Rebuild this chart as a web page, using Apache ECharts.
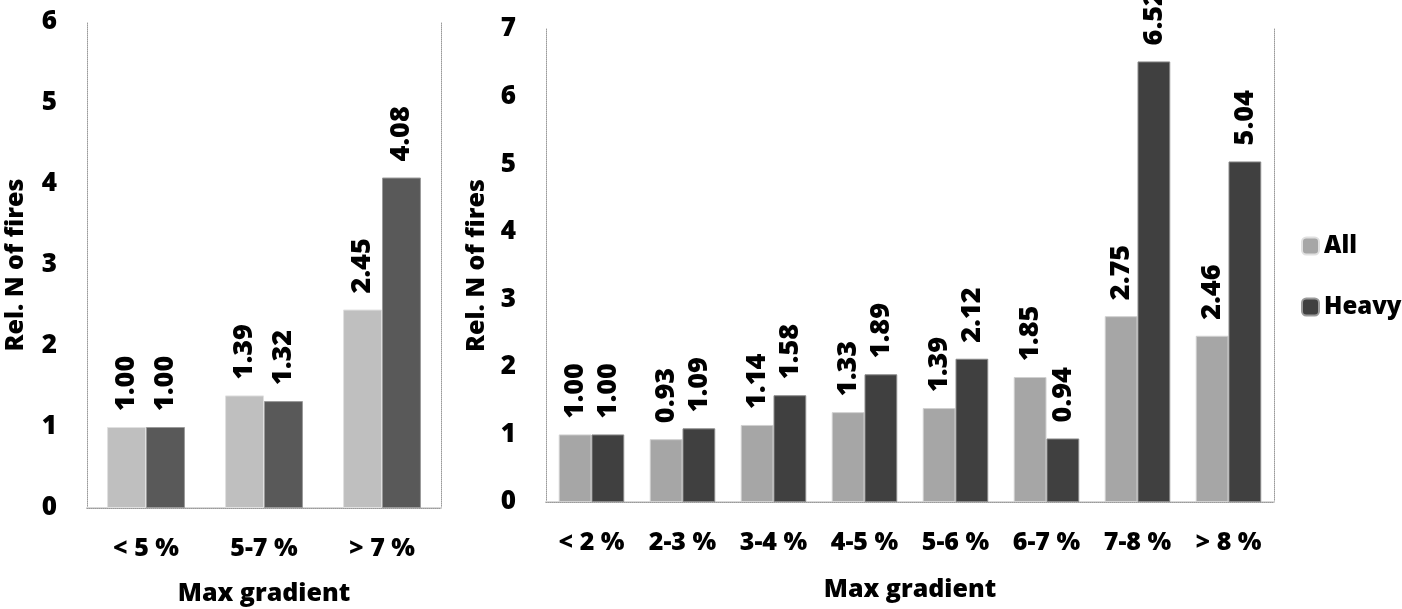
<!DOCTYPE html>
<html>
<head>
<meta charset="utf-8">
<script src="https://cdn.jsdelivr.net/npm/echarts@6/dist/echarts.min.js"></script>
<style>html,body{margin:0;padding:0;background:#fff}#c{width:1402px;height:609px}</style>
</head>
<body>
<div id="c"></div>
<script>
const leftCategories = ['< 5 %', '5-7 %', '> 7 %'];
const leftAll = [1.00, 1.39, 2.45];
const leftHeavy = [1.00, 1.32, 4.08];
const rightCategories = ['< 2 %', '2-3 %', '3-4 %', '4-5 %', '5-6 %', '6-7 %', '7-8 %', '> 8 %'];
const rightAll = [1.00, 0.93, 1.14, 1.33, 1.39, 1.85, 2.75, 2.46];
const rightHeavy = [1.00, 1.09, 1.58, 1.89, 2.12, 0.94, 6.52, 5.04];
const yTitle = 'Rel. N of fires';
const xTitle = 'Max gradient';

const FONT = '"Open Sans", "DejaVu Sans", sans-serif';
const W = 800;
const chart = echarts.init(document.getElementById('c'));
const dotted = { show: true, lineStyle: { color: '#9a9a9a', type: [1, 1], width: 1 } };
const valueLabel = {
  show: true, position: 'top', rotate: 90, align: 'left', verticalAlign: 'middle',
  distance: 16, fontFamily: FONT, fontWeight: W, fontSize: 27, color: '#000',
  formatter: p => p.value.toFixed(2)
};
function catAxis(grid, cats, gap) {
  return {
    type: 'category', gridIndex: grid, data: cats, position: 'bottom',
    axisLine: { show: true, lineStyle: { color: '#d9d9d9', width: 2 } },
    axisTick: { show: false },
    axisLabel: { margin: 28, fontFamily: FONT, fontWeight: W, fontSize: 25, color: '#000', interval: 0 },
    name: xTitle, nameLocation: 'middle', nameGap: gap,
    nameTextStyle: { fontFamily: FONT, fontWeight: W, fontSize: 25, color: '#000' }
  };
}
function topAxis(grid, cats) {
  return { type: 'category', gridIndex: grid, data: cats, position: 'top', axisLine: dotted, axisTick: { show: false }, axisLabel: { show: false } };
}
function valAxis(grid, max, gap) {
  return {
    type: 'value', gridIndex: grid, min: 0, max: max, interval: 1, position: 'left',
    axisLine: dotted, axisTick: { show: false }, splitLine: { show: false },
    axisLabel: { margin: 30, fontFamily: FONT, fontWeight: W, fontSize: 26, color: '#000' },
    name: yTitle, nameLocation: 'middle', nameRotate: 90, nameGap: gap,
    nameTextStyle: { fontFamily: FONT, fontWeight: W, fontSize: 25, color: '#000' }
  };
}
function rightAxis(grid, max) {
  return { type: 'value', gridIndex: grid, min: 0, max: max, interval: 1, position: 'right', axisLine: dotted, axisTick: { show: false }, axisLabel: { show: false }, splitLine: { show: false } };
}

chart.setOption({
  animation: false,
  backgroundColor: '#fff',
  legend: {
    orient: 'vertical', left: 1296, top: 229, itemWidth: 17, itemHeight: 17, itemGap: 37,
    textStyle: { fontFamily: FONT, fontWeight: W, fontSize: 24, color: '#000' },
    data: [{ name: 'All', itemStyle: { color: '#a6a6a6' } }, { name: 'Heavy', itemStyle: { color: '#404040' } }]
  },
  grid: [
    { left: 87, top: 22, width: 354, height: 486, outerBoundsMode: 'none', containLabel: false },
    { left: 546, top: 29, width: 728, height: 473, outerBoundsMode: 'none', containLabel: false }
  ],
  xAxis: [catAxis(0, leftCategories, 73), catAxis(1, rightCategories, 75), topAxis(0, leftCategories), topAxis(1, rightCategories)],
  yAxis: [valAxis(0, 6, 59), valAxis(1, 7, 51), rightAxis(0, 6), rightAxis(1, 7)],
  series: [
    { name: 'All', type: 'bar', xAxisIndex: 0, yAxisIndex: 0, data: leftAll, barGap: '0%', barCategoryGap: '34%',
      itemStyle: { color: '#bfbfbf', borderColor: '#e0e0e0', borderWidth: 1 }, label: valueLabel },
    { name: 'Heavy', type: 'bar', xAxisIndex: 0, yAxisIndex: 0, data: leftHeavy, barGap: '0%', barCategoryGap: '34%',
      itemStyle: { color: '#595959', borderColor: '#9a9a9a', borderWidth: 1 }, label: valueLabel },
    { name: 'All', type: 'bar', xAxisIndex: 1, yAxisIndex: 1, data: rightAll, barGap: '0%', barCategoryGap: '28%',
      itemStyle: { color: '#a6a6a6', borderColor: '#d0d0d0', borderWidth: 1 }, label: valueLabel },
    { name: 'Heavy', type: 'bar', xAxisIndex: 1, yAxisIndex: 1, data: rightHeavy, barGap: '0%', barCategoryGap: '28%',
      itemStyle: { color: '#404040', borderColor: '#8a8a8a', borderWidth: 1 }, label: valueLabel }
  ]
});
</script>
</body>
</html>
